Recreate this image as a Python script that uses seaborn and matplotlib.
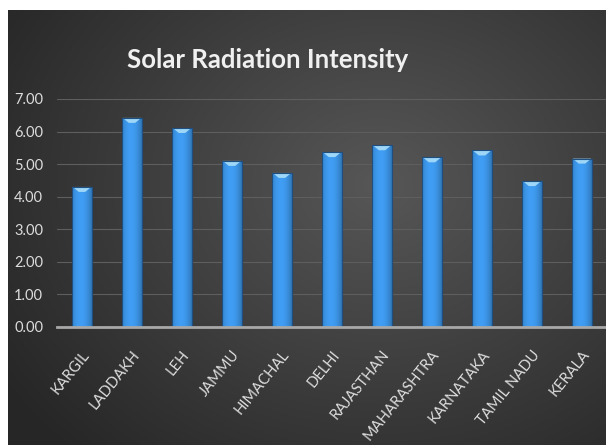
import numpy as np
import matplotlib
matplotlib.use("Agg")
import matplotlib.pyplot as plt
import matplotlib.transforms as mtransforms
from matplotlib.patches import Polygon
import seaborn as sns

# Average solar radiation intensity by region
states = ["KARGIL", "LADDAKH", "LEH", "JAMMU", "HIMACHAL", "DELHI",
          "RAJASTHAN", "MAHARASHTRA", "KARNATAKA", "TAMIL NADU", "KERALA"]
intensity = [4.30, 6.42, 6.11, 5.10, 4.73, 5.37, 5.58, 5.21, 5.42, 4.48, 5.17]
y_ticks = [0, 1, 2, 3, 4, 5, 6, 7]
title = "Solar Radiation Intensity"

sns.set_theme(style="dark")
plt.rcParams["font.family"] = ["Lato", "DejaVu Sans"]

W, H = 606, 445
fig = plt.figure(figsize=(W / 100, H / 100), dpi=100)
fig.patch.set_facecolor("white")

# dark radial-gradient panel behind the chart
bg = fig.add_axes([8 / W, 0, (W - 8) / W, (H - 10) / H])
bh, bw = 435, 598
yy, xx = np.mgrid[0:bh, 0:bw]
cx, cy = 0.62 * bw, 0.40 * bh
r = np.sqrt(((xx - cx) / (0.75 * bw)) ** 2 + ((yy - cy) / (0.85 * bh)) ** 2)
r = np.clip(r, 0, 1)
light, dark = np.array([0.34, 0.34, 0.34]), np.array([0.15, 0.15, 0.15])
img = light[None, None, :] * (1 - r[..., None]) + dark[None, None, :] * r[..., None]
bg.imshow(img, aspect="auto", interpolation="bilinear")
bg.set_axis_off()

# plotting area
ax = fig.add_axes([57 / W, (H - 327) / H, 550 / W, 228 / H])
ax.set_facecolor("none")
sns.barplot(x=states, y=intensity, color="#3b92e2", width=0.4,
            edgecolor="#1f4f80", linewidth=0.8, saturation=1, ax=ax, zorder=3)

ax.set_ylim(0, 7)
ax.set_xlim(-0.5, len(states) - 0.5)
ax.set_yticks(y_ticks)
ax.set_yticklabels([f"{v:.2f}" for v in y_ticks])
ax.set_xlabel("")
ax.set_ylabel("")
ax.yaxis.grid(True, color="#5e5e5e", linewidth=0.8, zorder=0)
ax.xaxis.grid(False)
for side in ["top", "right", "left"]:
    ax.spines[side].set_visible(False)
ax.spines["bottom"].set_color("#a8a8a8")
ax.spines["bottom"].set_linewidth(2)
ax.spines["bottom"].set_zorder(5)
ax.tick_params(axis="y", length=0, pad=10, labelcolor="#dcdcdc", labelsize=10.5)
ax.tick_params(axis="x", length=0, pad=18, labelcolor="#dedede", labelsize=10.6)

offset = mtransforms.ScaledTranslation(5 / 100, 0, fig.dpi_scale_trans)
for lab in ax.get_xticklabels():
    lab.set_rotation(51)
    lab.set_ha("right")
    lab.set_va("center")
    lab.set_rotation_mode("anchor")
    lab.set_transform(lab.get_transform() + offset)

# shaded face and bevelled top for each bar
grad = np.linspace(0, 1, 64)
shade = 1.08 - 0.9 * (grad - 0.45) ** 2
face_img = np.zeros((1, 64, 3))
base = np.array([0x3b, 0x92, 0xe2]) / 255
for i in range(3):
    face_img[0, :, i] = np.clip(base[i] * shade, 0, 1)
cap_h = 5 / 32.6
for p in ax.patches:
    x0, w, h = p.get_x(), p.get_width(), p.get_height()
    im = ax.imshow(face_img, extent=[x0, x0 + w, 0, h], aspect="auto",
                   zorder=3.5, interpolation="bilinear")
    im.set_clip_path(p)
    cap = Polygon([[x0 + 0.04 * w, h], [x0 + 0.96 * w, h],
                   [x0 + 0.66 * w, h - cap_h], [x0 + 0.34 * w, h - cap_h]],
                  closed=True, facecolor="#9dd6f7", edgecolor="none", zorder=4)
    ax.add_patch(cap)
    p.set_zorder(4.2)
    p.set_facecolor("none")

fig.text(268 / W, 1 - 68 / H, title, ha="center", va="baseline",
         fontsize=18.5, fontweight="bold", color="#f0f0f0")

fig.savefig("out.png", dpi=100)
